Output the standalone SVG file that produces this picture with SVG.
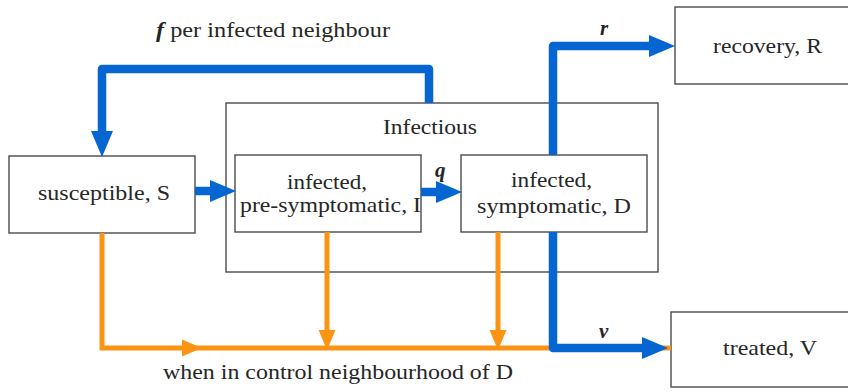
<svg xmlns="http://www.w3.org/2000/svg" width="848" height="392" viewBox="0 0 848 392">
<style>
.box{fill:#fff;stroke:#4a4a4a;stroke-width:1.4}
.t{font-family:'Liberation Serif','DejaVu Serif','Times New Roman',serif;font-size:21px;fill:#262626}
.bi{font-weight:bold;font-style:italic}
.blue{fill:none;stroke:#0565d1;stroke-width:8.5;stroke-linejoin:round}
.orange{fill:none;stroke:#fb9313;stroke-width:5}
</style>
<defs>
<marker id="ab" markerUnits="userSpaceOnUse" markerWidth="26" markerHeight="24" refX="0" refY="12" orient="auto" viewBox="0 0 26 24">
<path d="M0,1 L26,12 L0,23 Z" fill="#0565d1"/>
</marker>
<marker id="ao" markerUnits="userSpaceOnUse" markerWidth="20" markerHeight="18" refX="0" refY="9" orient="auto" viewBox="0 0 20 18">
<path d="M0,0.5 L20,9 L0,17.5 Z" fill="#fb9313"/>
</marker>
</defs>
<rect width="848" height="392" fill="#fff"/>
<g id="infectious">
<rect class="box" x="226" y="103" width="432" height="169"/>
<text class="t" x="383" y="134" textLength="94" lengthAdjust="spacingAndGlyphs">Infectious</text>
</g>
<g id="susceptible">
<rect class="box" x="9" y="156" width="186" height="77"/>
<text class="t" x="38" y="200" textLength="132" lengthAdjust="spacingAndGlyphs">susceptible, S</text>
</g>
<g id="presymptomatic">
<rect class="box" x="235" y="155" width="186" height="77"/>
<text class="t" x="287" y="189" textLength="80" lengthAdjust="spacingAndGlyphs">infected,</text>
<text class="t" x="240" y="212" textLength="181" lengthAdjust="spacingAndGlyphs">pre-symptomatic, I</text>
</g>
<g id="symptomatic">
<rect class="box" x="461" y="155" width="186" height="77"/>
<text class="t" x="511" y="187" textLength="81" lengthAdjust="spacingAndGlyphs">infected,</text>
<text class="t" x="477" y="213" textLength="154" lengthAdjust="spacingAndGlyphs">symptomatic, D</text>
</g>
<g id="recovery">
<rect class="box" x="675" y="7" width="190" height="77"/>
<text class="t" x="713" y="53" textLength="109" lengthAdjust="spacingAndGlyphs">recovery, R</text>
</g>
<g id="treated">
<rect class="box" x="671" y="312" width="190" height="75"/>
<text class="t" x="723" y="355" textLength="94" lengthAdjust="spacingAndGlyphs">treated, V</text>
</g>
<g id="connectors">
<path class="orange" d="M102,233 V348 H182" marker-end="url(#ao)"/>
<path class="orange" d="M182,348 H671"/>
<path class="orange" d="M327,232 V330" marker-end="url(#ao)"/>
<path class="orange" d="M498,232 V330" marker-end="url(#ao)"/>
<path class="blue" d="M429,103 V69 H102 V131" marker-end="url(#ab)"/>
<path class="blue" d="M195,191 H210" marker-end="url(#ab)"/>
<path class="blue" d="M421,192 H436" marker-end="url(#ab)"/>
<path class="blue" d="M553,155 V46 H649" marker-end="url(#ab)"/>
<path class="blue" d="M553,232 V348 H642" marker-end="url(#ab)"/>
<text class="t" x="156" y="37" textLength="234" lengthAdjust="spacingAndGlyphs"><tspan class="bi">f</tspan> per infected neighbour</text>
<text class="t bi" x="435" y="177">q</text>
<text class="t bi" x="600" y="35">r</text>
<text class="t bi" x="599" y="338">v</text>
<text class="t" x="163" y="379" textLength="350" lengthAdjust="spacingAndGlyphs">when in control neighbourhood of D</text>
</g>
</svg>
